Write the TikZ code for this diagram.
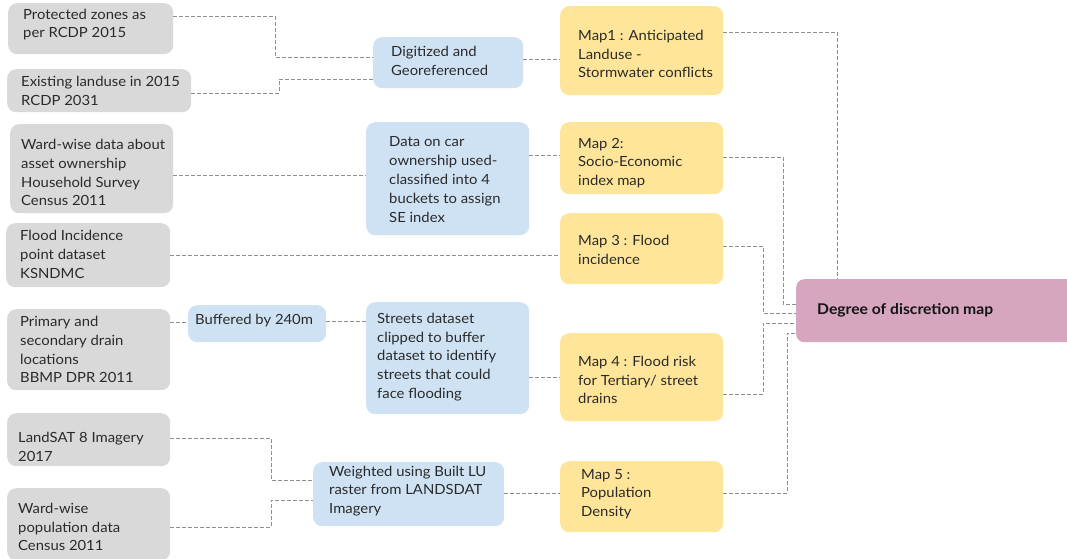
\documentclass[tikz,border=0pt]{standalone}
\usepackage{fontspec}
\setmainfont{Lato}[FakeStretch=1.06]
\definecolor{srcfill}{HTML}{D9D9D9}
\definecolor{stepfill}{HTML}{CFE2F3}
\definecolor{mapfill}{HTML}{FFE599}
\definecolor{endfill}{HTML}{D5A6BD}
\definecolor{inktext}{HTML}{2A2A2A}
\definecolor{linkgray}{HTML}{8E8E8E}
\tikzset{
  box/.style={rectangle, rounded corners=9pt, draw=none, inner sep=0pt, anchor=north west},
  srcbox/.style={box, fill=srcfill},
  stepbox/.style={box, fill=stepfill},
  mapbox/.style={box, fill=mapfill},
  endbox/.style={box, fill=endfill, rounded corners=8pt},
  txt/.style={inner sep=0pt, anchor=west, align=left, text=inktext,
    font=\fontsize{14}{18.8}\selectfont},
  link/.style={draw=linkgray, line width=0.9pt, dash pattern=on 3.5pt off 2.5pt}
}
\begin{document}
\begin{tikzpicture}[x=1pt, y=-1pt]
\useasboundingbox (0,0) rectangle (1067,558);

% source datasets
\node[srcbox, minimum width=165pt, minimum height=51pt] (g1) at (8,3) {};
\node[txt] (g1t) at (23,24.5) {Protected zones as\\per RCDP 2015};
\node[srcbox, minimum width=184pt, minimum height=43pt] (g2) at (7,69) {};
\node[txt] (g2t) at (21,91) {Existing landuse in 2015\\RCDP 2031};
\node[srcbox, minimum width=163pt, minimum height=89pt] (g3) at (10,124) {};
\node[txt] (g3t) at (21,172.5) {Ward-wise data about\\asset ownership\\Household Survey\\Census 2011};
\node[srcbox, minimum width=164pt, minimum height=64pt] (g4) at (6,223) {};
\node[txt] (g4t) at (20,254.5) {Flood Incidence\\point dataset\\KSNDMC};
\node[srcbox, minimum width=163pt, minimum height=81pt] (g5) at (7,309) {};
\node[txt] (g5t) at (20,349.5) {Primary and\\secondary drain\\locations\\BBMP DPR 2011};
\node[srcbox, minimum width=163pt, minimum height=53pt] (g6) at (7,413) {};
\node[txt] (g6t) at (18,447) {LandSAT 8 Imagery\\2017};
\node[srcbox, minimum width=163pt, minimum height=72pt] (g7) at (7,488) {};
\node[txt] (g7t) at (18,527) {Ward-wise\\population data\\Census 2011};

% processing steps
\node[stepbox, minimum width=150pt, minimum height=51pt] (b1) at (373,37) {};
\node[txt] (b1t) at (391,61) {Digitized and\\Georeferenced};
\node[stepbox, minimum width=163pt, minimum height=113pt] (b2) at (366,122) {};
\node[txt] (b2t) at (389,179.5) {Data on car\\ownership used-\\classified into 4\\buckets to assign\\SE index};
\node[stepbox, minimum width=138pt, minimum height=37pt] (b3) at (188,305) {};
\node[txt] (b3t) at (195,321) {Buffered by 240m};
\node[stepbox, minimum width=163pt, minimum height=112pt] (b4) at (366,302) {};
\node[txt] (b4t) at (377,357) {Streets dataset\\clipped to buffer\\dataset to identify\\streets that could\\face flooding};
\node[stepbox, minimum width=191pt, minimum height=64pt] (b5) at (313,462) {};
\node[txt] (b5t) at (329,491) {Weighted using Built LU\\raster from LANDSDAT\\Imagery};

% output maps
\node[mapbox, minimum width=163pt, minimum height=89pt] (m1) at (560,6) {};
\node[txt] (m1t) at (578,54) {Map1 : Anticipated\\Landuse -\\Stormwater conflicts};
\node[mapbox, minimum width=163pt, minimum height=72pt] (m2) at (560,122) {};
\node[txt] (m2t) at (578,163) {Map 2:\\Socio-Economic\\index map};
\node[mapbox, minimum width=163pt, minimum height=71pt] (m3) at (560,213) {};
\node[txt] (m3t) at (578,250) {Map 3 : Flood\\incidence};
\node[mapbox, minimum width=163pt, minimum height=88pt] (m4) at (560,333) {};
\node[txt] (m4t) at (578,380) {Map 4 : Flood risk\\for Tertiary/ street\\drains};
\node[mapbox, minimum width=163pt, minimum height=71pt] (m5) at (560,461) {};
\node[txt] (m5t) at (581,494) {Map 5 :\\Population\\Density};

% combined result
\node[endbox, minimum width=290pt, minimum height=63pt] (dd) at (796,279) {};
\node[txt, font=\fontsize{14.8}{16}\selectfont\bfseries, text=black!92] (ddt) at (817,310) {Degree of discretion map};

% links: sources to steps
\draw[link] (g1.east |- 0,16) -- (275,16) -- (275,57) -- (b1.west |- 0,57);
\draw[link] (g2.east |- 0,93) -- (279,93) -- (279,79) -- (b1.west |- 0,79);
\draw[link] (g3.east |- 0,175) -- (b2.west |- 0,175);
\draw[link] (g5.east |- 0,322) -- (b3.west |- 0,322);
\draw[link] (b3.east |- 0,321) -- (b4.west |- 0,321);
\draw[link] (g6.east |- 0,438) -- (271,438) -- (271,480) -- (b5.west |- 0,480);
\draw[link] (g7.east |- 0,527) -- (271,527) -- (271,500) -- (b5.west |- 0,500);

% links: steps to maps
\draw[link] (b1.east |- 0,59) -- (m1.west |- 0,59);
\draw[link] (b2.east |- 0,155) -- (m2.west |- 0,155);
\draw[link] (g4.east |- 0,255) -- (m3.west |- 0,255);
\draw[link] (b4.east |- 0,377) -- (m4.west |- 0,377);
\draw[link] (b5.east |- 0,493) -- (m5.west |- 0,493);

% links: maps to the combined map
\draw[link] (m1.east |- 0,32) -- (837,32) -- (837,279);
\draw[link] (m2.east |- 0,157) -- (783,157) -- (783,304) -- (dd.west |- 0,304);
\draw[link] (m3.east |- 0,246) -- (763,246) -- (763,313) -- (dd.west |- 0,313);
\draw[link] (m4.east |- 0,394) -- (763,394) -- (763,323) -- (dd.west |- 0,323);
\draw[link] (m5.east |- 0,493) -- (787,493) -- (787,333) -- (dd.west |- 0,333);
\end{tikzpicture}
\end{document}
